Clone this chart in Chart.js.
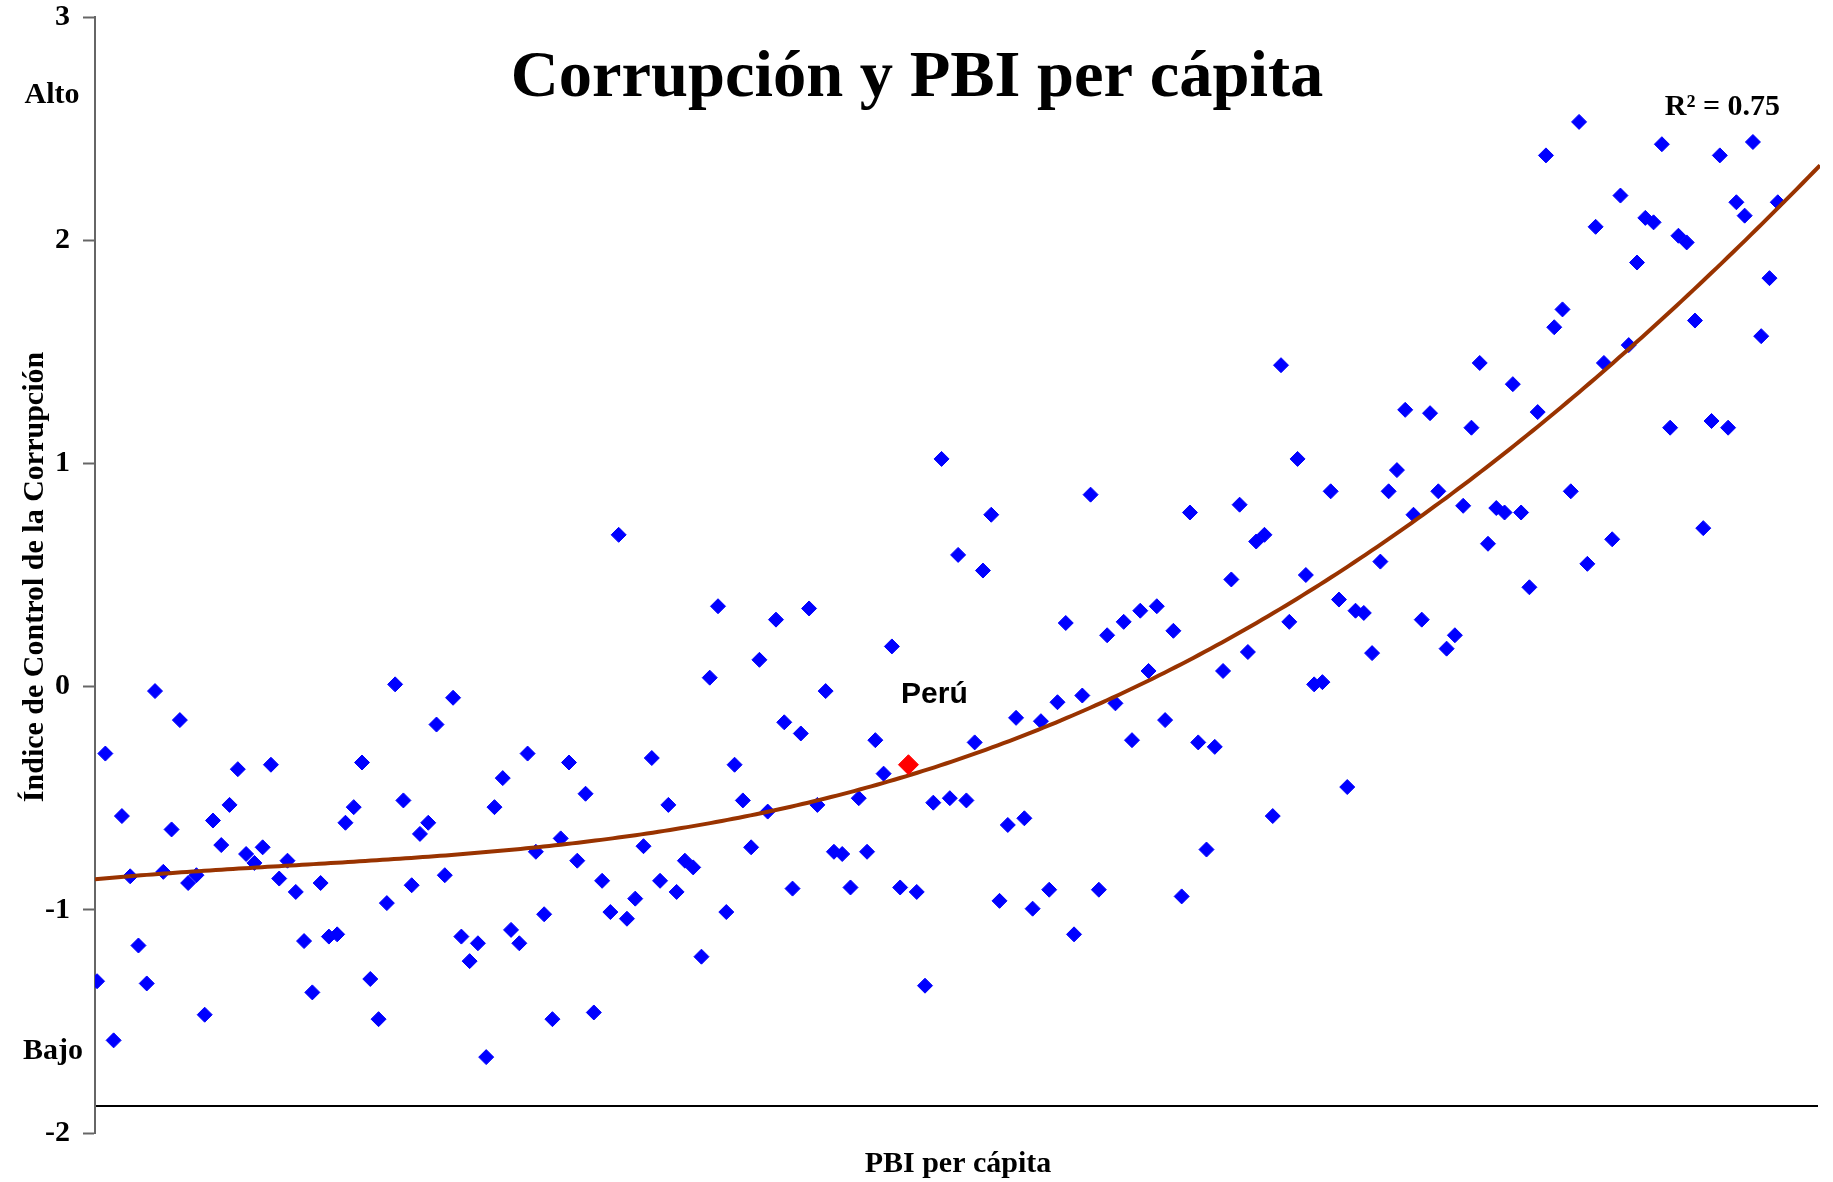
<!DOCTYPE html>
<html>
<head>
<meta charset="utf-8">
<script src="https://cdn.jsdelivr.net/npm/chart.js@4.4.1/dist/chart.umd.min.js"></script>
<style>
  body { margin: 0; background: #fff; }
</style>
</head>
<body>
<canvas id="chart" width="1833" height="1182"></canvas>
<script>
  // control of corruption index, one value per country, countries ordered by GDP per capita
  const corruption = [
    -1.32, -0.30, -1.585, -0.58, -0.85, -1.16, -1.33, -0.02, -0.83, -0.64,
    -0.15, -0.88, -0.845, -1.47, -0.60, -0.71, -0.53, -0.37, -0.75, -0.79,
    -0.72, -0.35, -0.86, -0.78, -0.92, -1.14, -1.37, -0.88, -1.12, -1.11,
    -0.61, -0.54, -0.34, -1.31, -1.49, -0.97, 0.01, -0.51, -0.89, -0.66,
    -0.61, -0.17, -0.845, -0.05, -1.12, -1.23, -1.15, -1.66, -0.54, -0.41,
    -1.09, -1.15, -0.30, -0.74, -1.02, -1.49, -0.68, -0.34, -0.78, -0.48,
    -1.46, -0.87, -1.01, 0.68, -1.04, -0.95, -0.715, -0.32, -0.87, -0.53,
    -0.92, -0.78, -0.81, -1.21, 0.04, 0.36, -1.01, -0.35, -0.51, -0.72,
    0.12, -0.56, 0.30, -0.16, -0.905, -0.21, 0.35, -0.53, -0.02, -0.74,
    -0.75, -0.90, -0.50, -0.74, -0.24, -0.39, 0.18, -0.90, -0.35, -0.92,
    -1.34, -0.52, 1.02, -0.50, 0.59, -0.51, -0.25, 0.52, 0.77, -0.96,
    -0.62, -0.14, -0.59, -0.995, -0.155, -0.91, -0.07, 0.285, -1.11, -0.04,
    0.86, -0.91, 0.23, -0.075, 0.29, -0.24, 0.34, 0.07, 0.36, -0.15,
    0.25, -0.94, 0.78, -0.25, -0.73, -0.27, 0.07, 0.48, 0.815, 0.155,
    0.65, 0.68, -0.58, 1.44, 0.29, 1.02, 0.50, 0.01, 0.02, 0.875,
    0.39, -0.45, 0.34, 0.33, 0.15, 0.56, 0.875, 0.97, 1.24, 0.77,
    0.30, 1.225, 0.875, 0.17, 0.23, 0.81, 1.16, 1.45, 0.64, 0.80,
    0.78, 1.355, 0.78, 0.445, 1.23, 2.38, 1.61, 1.69, 0.875, 2.53,
    0.55, 2.06, 1.45, 0.66, 2.20, 1.53, 1.90, 2.10, 2.08, 2.43,
    1.16, 2.02, 1.99, 1.64, 0.71, 1.19, 2.38, 1.16, 2.17, 2.11,
    2.44, 1.57, 1.83, 2.17
  ];
  const peruRank = 99;          // position of Perú in the list above (1-based)
  const yTicks = [-2, -1, 0, 1, 2, 3];
  const floorLine = -1.88;      // the black reference line under "Bajo"
  const r2Text = 'R² = 0.75';
  const trendOrder = 4;

  const serif = '"Liberation Serif", "Times New Roman", serif';
  const sans = '"Liberation Sans", Arial, sans-serif';

  // rank axis limits (the x axis shows no values)
  const xMin = 0.75;
  const xMax = 209.1;

  const blueData = [];
  let peruData = [];
  corruption.forEach((v, i) => {
    if (i + 1 === peruRank) peruData = [{ x: i + 1, y: v }];
    else blueData.push({ x: i + 1, y: v });
  });

  // least-squares polynomial trend line from all the points
  function polyFit(xs, ys, order) {
    const n = order + 1;
    const A = [];
    for (let r = 0; r < n; r++) {
      A.push(new Array(n + 1).fill(0));
    }
    for (let k = 0; k < xs.length; k++) {
      const x = xs[k] / 100;
      for (let r = 0; r < n; r++) {
        for (let c = 0; c < n; c++) A[r][c] += Math.pow(x, r + c);
        A[r][n] += ys[k] * Math.pow(x, r);
      }
    }
    for (let p = 0; p < n; p++) {
      let best = p;
      for (let r = p + 1; r < n; r++) if (Math.abs(A[r][p]) > Math.abs(A[best][p])) best = r;
      [A[p], A[best]] = [A[best], A[p]];
      for (let r = 0; r < n; r++) {
        if (r === p) continue;
        const f = A[r][p] / A[p][p];
        for (let c = p; c <= n; c++) A[r][c] -= f * A[p][c];
      }
    }
    return A.map((row, i) => row[n] / row[i]);
  }

  const coef = polyFit(corruption.map((v, i) => i + 1), corruption, trendOrder);
  const trendData = [];
  for (let s = 0; s <= 300; s++) {
    const x = xMin + (xMax - xMin) * s / 300;
    const u = x / 100;
    let y = 0;
    coef.forEach((c, k) => { y += c * Math.pow(u, k); });
    trendData.push({ x: x, y: y });
  }

  // texts and the reference line
  const extras = {
    id: 'extras',
    beforeDatasetsDraw(chart) {
      const ctx = chart.ctx;
      const area = chart.chartArea;
      const yy = Math.round(chart.scales.y.getPixelForValue(floorLine));
      ctx.save();
      ctx.strokeStyle = '#000';
      ctx.lineWidth = 2;
      ctx.beginPath();
      ctx.moveTo(area.left + 1, yy);
      ctx.lineTo(area.right - 2, yy);
      ctx.stroke();
      ctx.restore();
    },
    afterDraw(chart) {
      const ctx = chart.ctx;
      const sx = chart.scales.x, sy = chart.scales.y;
      ctx.save();
      ctx.fillStyle = '#000';

      ctx.font = 'bold 66.5px ' + serif;
      ctx.textAlign = 'center';
      ctx.textBaseline = 'alphabetic';
      ctx.fillText('Corrupción y PBI per cápita', 917, 96);

      ctx.font = 'bold 30px ' + serif;
      ctx.fillText('Alto', 52, 103);
      ctx.fillText('Bajo', 53, 1059);
      ctx.textBaseline = 'middle';
      ctx.fillText('PBI per cápita', 958, 1164);

      ctx.save();
      ctx.translate(35, 577);
      ctx.rotate(-Math.PI / 2);
      ctx.fillText('Índice de Control de la Corrupción', 0, 0);
      ctx.restore();

      ctx.textAlign = 'right';
      ctx.textBaseline = 'alphabetic';
      ctx.fillText(r2Text, 1780, 115);

      // Perú label next to its point
      const px = sx.getPixelForValue(peruRank);
      const py = sy.getPixelForValue(corruption[peruRank - 1]);
      ctx.font = 'bold 30px ' + sans;
      ctx.textAlign = 'center';
      ctx.fillText('Perú', px + 26, py - 62);
      ctx.restore();
    }
  };

  const ctx = document.getElementById('chart').getContext('2d');
  const chart = new Chart(ctx, {
    type: 'scatter',
    data: {
      datasets: [
        {
          label: 'Perú',
          data: peruData,
          pointStyle: 'rectRot',
          pointRadius: 10,
          pointBackgroundColor: '#ff0000',
          pointBorderColor: '#ff0000',
          pointBorderWidth: 1,
          order: 0
        },
        {
          label: 'Tendencia',
          data: trendData,
          showLine: true,
          borderColor: '#993300',
          borderWidth: 4,
          pointRadius: 0,
          fill: false,
          order: 1
        },
        {
          label: 'Países',
          data: blueData,
          pointStyle: 'rectRot',
          pointRadius: 7.5,
          pointBackgroundColor: '#0000ff',
          pointBorderColor: '#0000ff',
          pointBorderWidth: 1,
          order: 2
        }
      ]
    },
    options: {
      responsive: false,
      animation: false,
      devicePixelRatio: 1,
      layout: { padding: { top: 17, right: 13, bottom: 49, left: 0 } },
      plugins: {
        legend: { display: false },
        tooltip: { enabled: false },
        title: { display: false }
      },
      scales: {
        x: {
          type: 'linear',
          min: xMin,
          max: xMax,
          display: false
        },
        y: {
          min: -2,
          max: 3,
          // fixed axis width, and no extra room for the end labels
          afterFit: (scale) => {
            scale.width = 95;
            scale.paddingTop = 0;
            scale.paddingBottom = 0;
          },
          afterBuildTicks: (scale) => { scale.ticks = yTicks.map(v => ({ value: v })); },
          border: { display: true, color: '#666', width: 2 },
          grid: {
            drawOnChartArea: false,
            drawTicks: true,
            tickLength: 12,
            tickColor: '#666',
            tickWidth: 2
          },
          ticks: {
            padding: 13,
            color: '#000',
            font: { family: serif, size: 30, weight: 'bold' }
          }
        }
      }
    },
    plugins: [extras]
  });
</script>
</body>
</html>
